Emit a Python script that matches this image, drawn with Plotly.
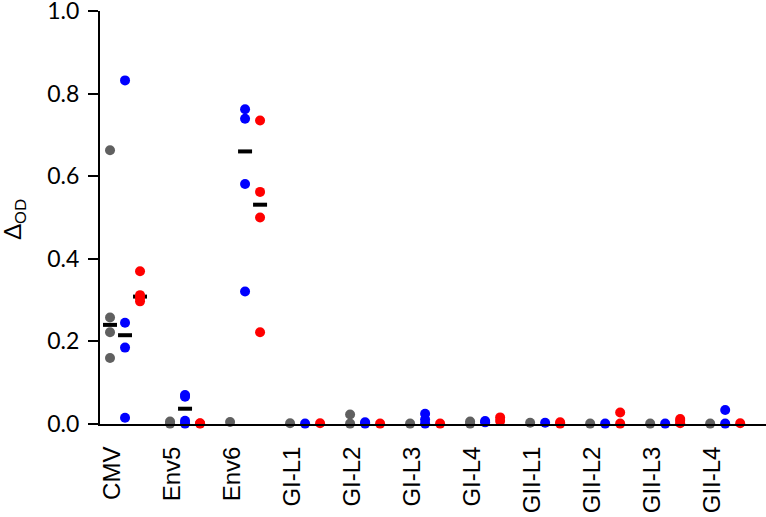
import numpy as np
import plotly.graph_objects as go

categories = ["CMV", "Env5", "Env6", "GI-L1", "GI-L2", "GI-L3", "GI-L4",
              "GII-L1", "GII-L2", "GII-L3", "GII-L4"]

grey_values = [
    [0.663, 0.258, 0.222, 0.160],
    [0.006, 0.001],
    [0.005],
    [0.002],
    [0.023, 0.001],
    [0.001],
    [0.006, 0.001],
    [0.003],
    [0.001],
    [0.001],
    [0.001],
]
blue_values = [
    [0.832, 0.245, 0.185, 0.015],
    [0.070, 0.066, 0.008, 0.001],
    [0.762, 0.739, 0.581, 0.321],
    [0.001],
    [0.004, 0.001],
    [0.025, 0.011, 0.001],
    [0.007, 0.004],
    [0.003],
    [0.001],
    [0.001],
    [0.034, 0.001],
]
red_values = [
    [0.370, 0.312, 0.305, 0.297],
    [0.002, 0.001],
    [0.735, 0.562, 0.500, 0.222],
    [0.002],
    [0.001],
    [0.001],
    [0.016, 0.007],
    [0.004, 0.001],
    [0.028, 0.001],
    [0.012, 0.008, 0.002],
    [0.002],
]

series = [
    ("grey", grey_values, "#606060", 0.0),
    ("blue", blue_values, "#0000ff", 0.25),
    ("red", red_values, "#ff0000", 0.5),
]
# groups whose median bar is shown
median_groups = {"grey": [0], "blue": [0, 1, 2], "red": [0, 2]}

fig = go.Figure()

# median bars
for name, vals, color, off in series:
    mx, my = [], []
    for i in median_groups[name]:
        mx.append(i + off)
        my.append(float(np.median(vals[i])))
    fig.add_trace(go.Scatter(
        x=mx, y=my, mode="markers", showlegend=False, cliponaxis=False,
        marker=dict(symbol="line-ew", size=10, line=dict(color="black", width=4)),
    ))

# points
for name, vals, color, off in series:
    xs, ys = [], []
    for i, v in enumerate(vals):
        for y in v:
            xs.append(i + off)
            ys.append(y)
    fig.add_trace(go.Scatter(
        x=xs, y=ys, mode="markers", showlegend=False, cliponaxis=False,
        marker=dict(size=10, color=color, line=dict(width=0)),
    ))

fig.update_layout(
    width=766, height=517,
    margin=dict(l=100, r=0, t=11, b=93),
    plot_bgcolor="white", paper_bgcolor="white",
    xaxis=dict(
        range=[-0.167, 10.93], showgrid=False, zeroline=False,
        showline=True, linecolor="black", linewidth=2,
        tickvals=[i + 0.03 for i in range(len(categories))],
        ticktext=categories, tickangle=-90, ticks="",
        ticklabelstandoff=11, automargin=False, ticklabeloverflow="allow",
        tickfont=dict(family="Liberation Sans, Arial", size=24, color="black"),
    ),
    yaxis=dict(
        range=[0, 1.0], showgrid=False, zeroline=False,
        showline=True, linecolor="black", linewidth=2,
        tickvals=[0, 0.2, 0.4, 0.6, 0.8, 1.0],
        ticktext=["0.0", "0.2", "0.4", "0.6", "0.8", "1.0"],
        ticks="outside", ticklen=10, tickwidth=2, tickcolor="black",
        ticklabelstandoff=4, automargin=False, ticklabeloverflow="allow",
        tickfont=dict(family="Lato", size=23, color="black"),
    ),
    annotations=[dict(
        text="Δ<sub>OD</sub>", xref="paper", yref="paper",
        x=-0.13, y=0.496, xanchor="center", yanchor="middle",
        textangle=-90, showarrow=False,
        font=dict(family="Lato", size=23, color="black"),
    )],
)

fig.write_html(
    "out.html",
    config={"displayModeBar": False},
    post_script="document.body.style.margin='0';document.body.style.overflow='hidden';",
)
